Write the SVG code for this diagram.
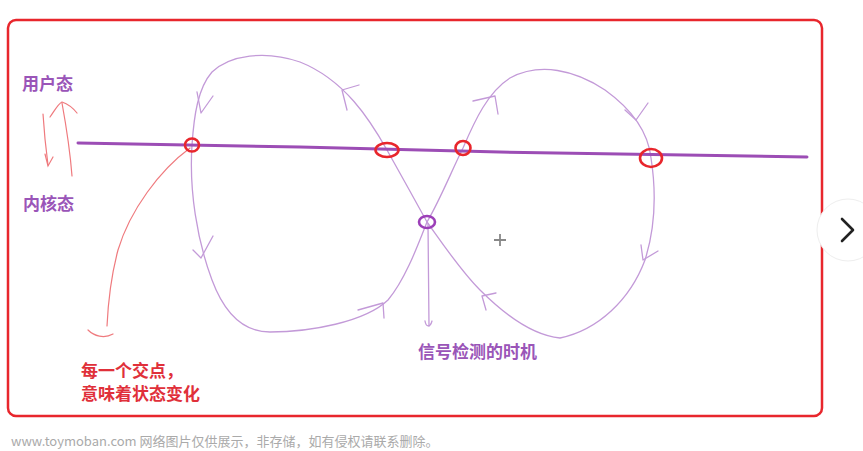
<svg xmlns="http://www.w3.org/2000/svg" width="863" height="451" viewBox="0 0 863 451">
<style>
.loop{fill:none;stroke:#c39ad8;stroke-width:1.3;stroke-linecap:round;stroke-linejoin:round}
.red{fill:none;stroke:#e8262c;stroke-width:2.6}
.pen{fill:none;stroke:#ef7a7e;stroke-width:1.2;stroke-linecap:round}
.lbl{font-family:"Noto Sans CJK SC","Noto Sans",sans-serif;font-weight:bold;font-size:17px}
</style>
<rect width="863" height="451" fill="#fff"/>
<rect x="8" y="20" width="814" height="396" rx="8" fill="#fff" stroke="#e8262c" stroke-width="2.5"/>
<g id="connectors">
<!-- left loop -->
<path class="loop" d="M427,222 C415,200 398,170 387,150 C370,120 345,80 300,62 C265,50 230,55 212,72 C198,88 194,115 192,145 C189,190 197,240 212,280 C225,315 245,332 270,332 C310,332 365,322 388,300 C405,280 418,245 427,222"/>
<!-- right loop -->
<path class="loop" d="M427,222 C440,200 452,170 463,148 C475,120 488,92 510,78 C540,62 575,70 605,90 C630,108 648,130 651,158 C656,190 656,225 645,260 C630,300 598,330 560,338 C530,335 500,310 480,290 C460,270 440,240 427,222"/>
<!-- arrowheads on loops -->
<path class="loop" d="M197,92 L201,113 L213,96"/>
<path class="loop" d="M359,85 L342,90 L347,110"/>
<path class="loop" d="M473,101 L495,96 L498,114"/>
<path class="loop" d="M625,110 L636,120 L648,103"/>
<path class="loop" d="M641,245 L643,260 L658,251"/>
<path class="loop" d="M496,293 L482,296 L486,310"/>
<path class="loop" d="M193,250 L201,258 L213,236"/>
<path class="loop" d="M358,310 L383,303 L384,318"/>
<!-- vertical line to label -->
<path class="loop" d="M428,224 L429,326"/>
<path class="loop" d="M425,321 C426,327 430,328 432,321"/>
<!-- red pen curve from first crossing to caption -->
<path class="pen" d="M190,148 C160,170 130,210 118,250 C110,280 108,305 107,326"/>
<path class="pen" d="M88,330 C94,336 104,339 113,334"/>
<!-- red pen arrows between states -->
<path class="pen" d="M43,114 C44,130 46,150 48,165"/>
<path class="pen" d="M45,154 L48,166 L53,157"/>
<path class="pen" d="M72,176 C70,150 66,125 62,103"/>
<path class="pen" d="M50,117 C55,110 58,104 62,102 C68,104 73,108 77,113"/>
<!-- main purple line -->
<path d="M78,143 L300,147 L500,152 L807,157" fill="none" stroke="#9c4db5" stroke-width="3" stroke-linecap="round"/>
</g>
<g id="crossings">
<ellipse class="red" cx="192" cy="145" rx="7" ry="6.5"/>
<ellipse class="red" cx="387" cy="150" rx="11.5" ry="7"/>
<ellipse class="red" cx="463" cy="148" rx="7.5" ry="7"/>
<ellipse class="red" cx="651" cy="158" rx="11" ry="9"/>
<ellipse cx="427" cy="222" rx="8" ry="6" fill="none" stroke="#9c3fb8" stroke-width="2.6"/>
</g>
<g id="labels">
<text class="lbl" x="22" y="90" fill="#9a55b8">用户态</text>
<text class="lbl" x="23" y="210" fill="#9a55b8">内核态</text>
<text class="lbl" x="81" y="377" fill="#e0303a">每一个交点，</text>
<text class="lbl" x="81" y="400" fill="#e0303a">意味着状态变化</text>
<text class="lbl" x="418" y="358" fill="#9a55b8">信号检测的时机</text>
</g>
<g id="cursor">
<path d="M500,234 V246 M494,240 H506" stroke="#888" stroke-width="1.8"/>
</g>
<g id="nav">
<circle cx="848" cy="230" r="31" fill="#fff" stroke="#eee" stroke-width="1"/>
<path d="M842,219 L853,230 L842,241" fill="none" stroke="#222" stroke-width="2.6" stroke-linecap="round" stroke-linejoin="round"/>
</g>
<text x="11" y="446" font-family="'Noto Sans CJK SC','Noto Sans',sans-serif" font-size="13" fill="#aaa">www.toymoban.com 网络图片仅供展示，非存储，如有侵权请联系删除。</text>
</svg>
